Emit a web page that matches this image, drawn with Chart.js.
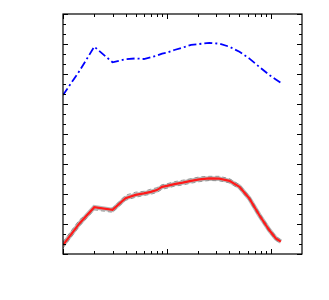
<!DOCTYPE html>
<html>
<head>
<meta charset="utf-8">
<script src="https://cdn.jsdelivr.net/npm/chart.js@4.4.1/dist/chart.umd.min.js"></script>
<style>
  html, body { margin: 0; padding: 0; background: #fff; }
  #wrap { width: 329px; height: 300px; }
</style>
</head>
<body>
<div id="wrap"><canvas id="chart"></canvas></div>
<script>
// x positions (log axis)
const xVals = [1, 1.44, 2, 3, 4, 5, 6, 7, 8, 9, 10, 11.8, 14.2, 17.1, 20.5, 25.6, 32, 40, 50, 62, 77.5, 96.6, 112, 125];

// upper curve (blue dash-dot)
const blueY = [5.30, 6.10, 6.91, 6.39, 6.49, 6.52, 6.50, 6.56, 6.61, 6.68, 6.71, 6.80, 6.88, 6.97, 7.00, 7.04, 7.01, 6.91, 6.74, 6.52, 6.24, 5.97, 5.82, 5.71];

// lower curve (red) and its grey dashed neighbours
const redY   = [0.30, 1.02, 1.56, 1.47, 1.86, 1.97, 2.02, 2.07, 2.13, 2.24, 2.27, 2.33, 2.38, 2.44, 2.49, 2.52, 2.51, 2.44, 2.24, 1.86, 1.30, 0.80, 0.52, 0.41];
const greyA  = [0.40, 1.14, 1.50, 1.53, 1.96, 2.06, 2.09, 2.16, 2.21, 2.31, 2.34, 2.41, 2.46, 2.51, 2.57, 2.59, 2.59, 2.51, 2.31, 1.93, 1.37, 0.87, 0.59, 0.47];
const greyB  = [0.20, 0.93, 1.47, 1.39, 1.79, 1.89, 1.95, 1.99, 2.05, 2.16, 2.19, 2.26, 2.30, 2.36, 2.41, 2.45, 2.44, 2.37, 2.17, 1.79, 1.23, 0.73, 0.46, 0.35];

// tick marks
const xMajor = [1, 10, 100];
const xMinor = [2, 3, 4, 5, 6, 7, 8, 9, 20, 30, 40, 50, 60, 70, 80, 90, 200];
const yMajor = [0, 1, 2, 3, 4, 5, 6, 7, 8];
const yMinor = [1/3, 2/3, 4/3, 5/3, 7/3, 8/3, 10/3, 11/3, 13/3, 14/3, 16/3, 17/3, 19/3, 20/3, 22/3, 23/3];

function pts(ys) {
    return xVals.map((x, i) => ({ x: x, y: ys[i] }));
}

// inward ticks on all four sides + frame
const frameTicks = {
    id: 'frameTicks',
    afterDraw(chart) {
        const { ctx, chartArea: a, scales } = chart;
        const sx = scales.x, sy = scales.y;
        ctx.save();
        ctx.strokeStyle = '#000';
        ctx.lineWidth = 1;
        const drawX = (vals, len) => vals.forEach(v => {
            const px = Math.round(sx.getPixelForValue(v)) + 0.5;
            if (px < a.left || px > a.right) return;
            ctx.beginPath();
            ctx.moveTo(px, a.bottom); ctx.lineTo(px, a.bottom - len);
            ctx.moveTo(px, a.top); ctx.lineTo(px, a.top + len);
            ctx.stroke();
        });
        const drawY = (vals, len) => vals.forEach(v => {
            const py = Math.round(sy.getPixelForValue(v)) + 0.5;
            ctx.beginPath();
            ctx.moveTo(a.left, py); ctx.lineTo(a.left + len, py);
            ctx.moveTo(a.right, py); ctx.lineTo(a.right - len, py);
            ctx.stroke();
        });
        drawX(xMajor, 5); drawX(xMinor, 3);
        drawY(yMajor, 5); drawY(yMinor, 3);
        ctx.lineWidth = 1.2;
        ctx.strokeRect(a.left, a.top, a.right - a.left, a.bottom - a.top);
        ctx.restore();
    }
};

new Chart(document.getElementById('chart'), {
    type: 'line',
    data: {
        datasets: [
            { data: pts(redY), borderColor: '#ff1a1a', borderWidth: 2.2, order: 0 },
            { data: pts(blueY), borderColor: '#0000ff', borderWidth: 1.8, borderDash: [8, 3, 2, 3], order: 1 },
            { data: pts(redY), borderColor: 'rgba(140,140,140,0.6)', borderWidth: 4.5, order: 2 },
            { data: pts(greyA), borderColor: 'rgba(120,120,120,0.75)', borderWidth: 1, borderDash: [4, 3], order: 3 },
            { data: pts(greyB), borderColor: 'rgba(120,120,120,0.75)', borderWidth: 1, borderDash: [4, 3], order: 4 }
        ]
    },
    options: {
        responsive: true,
        maintainAspectRatio: false,
        animation: false,
        layout: { padding: { left: 63, right: 27, top: 14, bottom: 46 } },
        elements: { point: { radius: 0 }, line: { tension: 0 } },
        plugins: { legend: { display: false }, tooltip: { enabled: false } },
        scales: {
            x: {
                type: 'logarithmic', min: 1, max: 200,
                grid: { display: false, drawTicks: false },
                border: { display: false },
                ticks: { display: false }
            },
            y: {
                type: 'linear', min: 0, max: 8,
                grid: { display: false, drawTicks: false },
                border: { display: false },
                ticks: { display: false }
            }
        }
    },
    plugins: [frameTicks]
});
</script>
</body>
</html>
